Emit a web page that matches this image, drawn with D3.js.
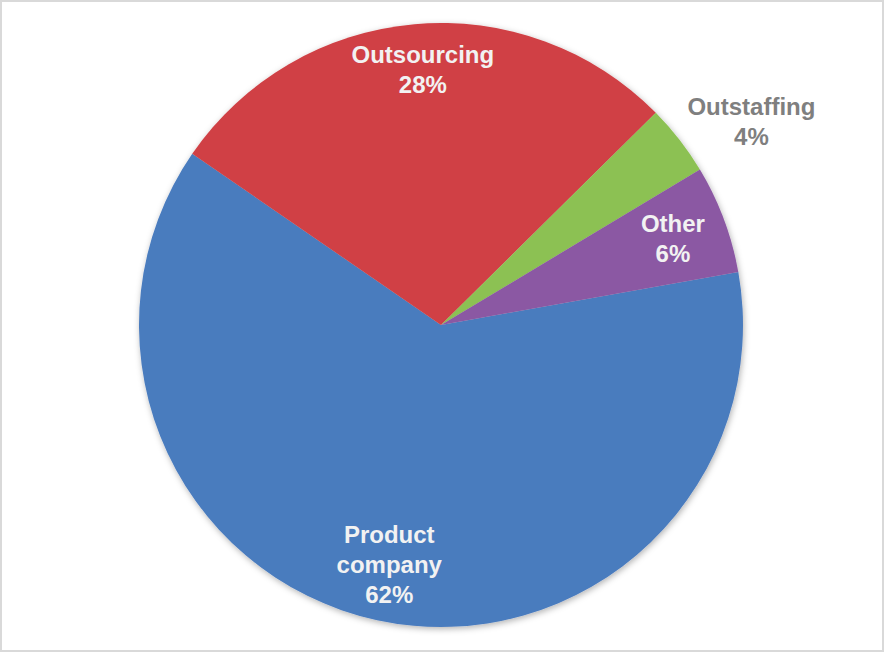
<!DOCTYPE html>
<html>
<head>
<meta charset="utf-8">
<script src="https://cdn.jsdelivr.net/npm/d3@7"></script>
<style>
  html, body { margin: 0; padding: 0; background: #fff; }
  svg { display: block; font-family: "Liberation Sans", Arial, sans-serif; }
</style>
</head>
<body>
<div id="chart"></div>
<script>
// chart data
const categories = ['Product company', 'Outsourcing', 'Outstaffing', 'Other'];
const labelLines = [['Product', 'company'], ['Outsourcing'], ['Outstaffing'], ['Other']];
const values = [62.4, 28.0, 3.8, 5.8];
const colors = ['#4a7bbe', '#d04045', '#8cc152', '#8b58a3'];

const width = 884, height = 652;
const cx = 441, cy = 325, radius = 302;
const startDeg = 79.9;

// where each label sits, as a fraction of the radius (Outstaffing goes outside)
const labelRadius = [0.81, 0.85, 1.23, 0.82];
const labelTurn = [0, 1, 4.5, 0];

const svg = d3.select('#chart')
    .append('svg')
    .attr('width', width)
    .attr('height', height);

// frame
svg.append('rect')
    .attr('x', 1).attr('y', 1)
    .attr('width', width - 2).attr('height', height - 2)
    .attr('fill', '#fff')
    .attr('stroke', '#d9d9d9')
    .attr('stroke-width', 2);

const defs = svg.append('defs');
const filter = defs.append('filter')
    .attr('id', 'shadow')
    .attr('x', '-10%').attr('y', '-10%')
    .attr('width', '120%').attr('height', '120%');
filter.append('feDropShadow')
    .attr('dx', 1).attr('dy', 2)
    .attr('stdDeviation', 3)
    .attr('flood-color', '#000')
    .attr('flood-opacity', 0.3);

const g = svg.append('g')
    .attr('transform', 'translate(' + cx + ',' + cy + ')');

const pie = d3.pie()
    .sort(null)
    .value(function(d) { return d; })
    .startAngle(startDeg * Math.PI / 180)
    .endAngle((startDeg + 360) * Math.PI / 180);

const arcs = pie(values);

const arc = d3.arc()
    .innerRadius(0)
    .outerRadius(radius);

const slices = g.append('g').attr('filter', 'url(#shadow)');
slices.selectAll('path')
    .data(arcs)
    .join('path')
    .attr('d', arc)
    .attr('fill', function(d, i) { return colors[i]; });

// labels
const fmt = function(v) { return Math.round(v) + '%'; };

g.selectAll('text.label')
    .data(arcs)
    .join('text')
    .attr('class', 'label')
    .attr('text-anchor', 'middle')
    .attr('font-size', 24)
    .attr('font-weight', 'bold')
    .attr('fill', function(d, i) { return labelRadius[i] > 1 ? '#7f7f7f' : '#f2f2f2'; })
    .each(function(d, i) {
        const mid = (d.startAngle + d.endAngle) / 2 + labelTurn[i] * Math.PI / 180;
        const r = radius * labelRadius[i];
        const x = Math.sin(mid) * r;
        const y = -Math.cos(mid) * r;
        const lines = labelLines[i].concat([fmt(values[i])]);
        const lh = 30;
        const top = y - (lines.length - 1) * lh / 2;
        const t = d3.select(this);
        lines.forEach(function(line, k) {
            t.append('tspan')
                .attr('x', x)
                .attr('y', top + k * lh)
                .attr('dy', '0.36em')
                .text(line);
        });
    });
</script>
</body>
</html>
